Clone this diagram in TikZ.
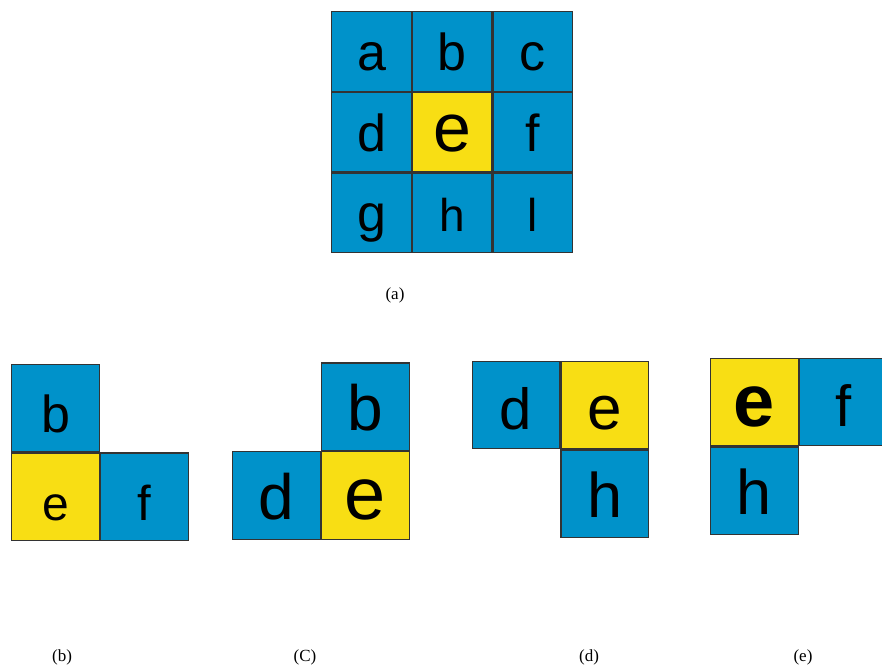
\documentclass[tikz,border=0pt]{standalone}
\usepackage{fontspec}
\setmainfont{Liberation Serif}
\newfontfamily\cellface{Liberation Sans}
\usepackage{tikz}
\usetikzlibrary{positioning}
\definecolor{cellBlue}{HTML}{0092CA}
\definecolor{cellYellow}{HTML}{F8DE14}
\definecolor{cellEdge}{HTML}{333333}
\newcommand{\cellsize}[1]{\cellface\fontsize{#1}{#1}\selectfont}
\begin{document}
\begin{tikzpicture}[x=1pt,y=1pt,cell/.style={draw=cellEdge, line width=1.2pt, minimum size=79.5pt, inner sep=0pt, text height=38pt, text depth=0pt, font=\cellsize{52}},blu/.style={cell, fill=cellBlue},ylw/.style={cell, fill=cellYellow},big/.style={minimum size=87.6pt, text height=48pt},subcap/.style={font=\fontsize{17}{17}\selectfont}]
\useasboundingbox (0,0) rectangle (882,670);
% (a) full neighbourhood
\node[blu] (ga) at (371.5,618.5) {a};
\node[blu, right=0pt of ga] (gb) {b};
\node[blu, right=0pt of gb] (gc) {c};
\node[blu, below=0pt of ga] (gd) {d};
\node[ylw, right=0pt of gd, font=\cellsize{68}] (ge) {e};
\node[blu, right=0pt of ge] (gf) {f};
\node[blu, below=0pt of gd] (gg) {g};
\node[blu, right=0pt of gg, font=\cellsize{46}] (gh) {h};
\node[blu, right=0pt of gh, font=\cellsize{46}] (gi) {l};
\node[subcap] (capa) at (395,375) {(a)};
% (b)
\node[blu, big] (bb) at (55.5,262) {b};
\node[ylw, big, below=0pt of bb, font=\cellsize{48}] (be) {e};
\node[blu, big, right=0pt of be, font=\cellsize{49}] (bf) {f};
\node[subcap] (capb) at (62,13) {(b)};
% (C)
\node[blu, big, font=\cellsize{64}] (cd) at (276.5,174.5) {d};
\node[ylw, big, right=0pt of cd, font=\cellsize{74}] (ce) {e};
\node[blu, big, above=0pt of ce, font=\cellsize{64}] (cb) {b};
\node[subcap] (capc) at (305,13) {(C)};
% (d)
\node[blu, big, font=\cellsize{58}] (dd) at (516,265) {d};
\node[ylw, big, right=0pt of dd, font=\cellsize{62}] (de) {e};
\node[blu, big, below=0pt of de, font=\cellsize{63}] (dh) {h};
\node[subcap] (capd) at (589,13) {(d)};
% (e)
\node[ylw, big, font=\cellsize{74}\bfseries] (ee) at (754.5,268) {e};
\node[blu, big, right=0pt of ee, font=\cellsize{58}] (ef) {f};
\node[blu, big, below=0pt of ee, font=\cellsize{63}] (eh) {h};
\node[subcap] (cape) at (803,13) {(e)};
\end{tikzpicture}
\end{document}
